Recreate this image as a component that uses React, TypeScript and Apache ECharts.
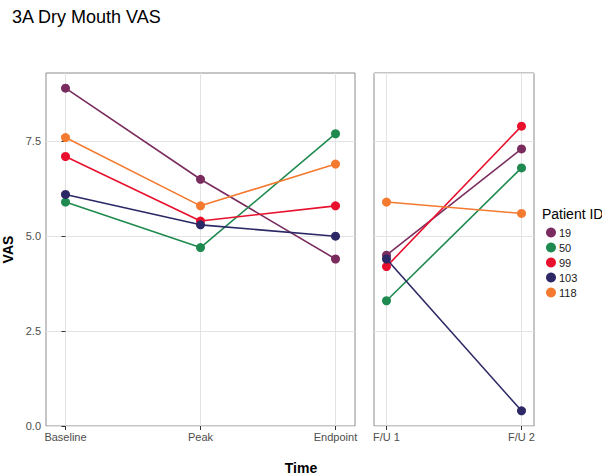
import React, { useEffect, useRef } from "react";
import * as echarts from "echarts";

const title = "3A Dry Mouth VAS";
const leftCategories = ["Baseline", "Peak", "Endpoint"];
const rightCategories = ["F/U 1", "F/U 2"];
const patients = ["19", "50", "99", "103", "118"];
const colors = ["#7b2c5e", "#1f8a4f", "#e8102c", "#2b2865", "#f47a30"];
const leftValues: number[][] = [
  [8.9, 6.5, 4.4],
  [5.9, 4.7, 7.7],
  [7.1, 5.4, 5.8],
  [6.1, 5.3, 5.0],
  [7.6, 5.8, 6.9],
];
const rightValues: number[][] = [
  [4.5, 7.3],
  [3.3, 6.8],
  [4.2, 7.9],
  [4.4, 0.4],
  [5.9, 5.6],
];
const yTicks = [0, 2.5, 5, 7.5];

const FONT = "Liberation Sans, Arial, Helvetica, sans-serif";

export default function App() {
  const ref = useRef<HTMLDivElement>(null);
  useEffect(() => {
    if (!ref.current) return;
    const chart = echarts.init(ref.current, null, { renderer: "svg" });
    const gridLine = { show: true, lineStyle: { color: "#e3e3e3", width: 1 } };
    const series: any[] = [];
    patients.forEach((p, i) => {
      series.push({
        name: p,
        type: "line",
        xAxisIndex: 0,
        yAxisIndex: 0,
        data: leftValues[i].map((v, j) => [j, v]),
        symbol: "circle",
        symbolSize: 9,
        lineStyle: { width: 1.6, color: colors[i] },
        itemStyle: { color: colors[i] },
      });
      series.push({
        name: p,
        type: "line",
        xAxisIndex: 1,
        yAxisIndex: 1,
        data: rightValues[i].map((v, j) => [j, v]),
        symbol: "circle",
        symbolSize: 9,
        lineStyle: { width: 1.6, color: colors[i] },
        itemStyle: { color: colors[i] },
      });
    });
    const xAxisCommon = (cats: string[], pad: number) => ({
      type: "value",
      min: -pad,
      max: cats.length - 1 + pad,
      axisLine: { show: false },
      axisTick: {
        show: true,
        length: 4,
        customValues: cats.map((_, i) => i),
        lineStyle: { color: "#333" },
      },
      axisLabel: {
        customValues: cats.map((_, i) => i),
        formatter: (v: number) => cats[Math.round(v)] ?? "",
        color: "#4d4d4d",
        fontSize: 11,
        fontFamily: FONT,
        margin: 5,
      },
      splitLine: gridLine,
    });
    const yAxisCommon = {
      type: "value",
      min: 0,
      max: 9.3,
      interval: 2.5,
      axisLine: { show: false },
      splitLine: gridLine,
    };
    const gridCommon = {
      top: 73,
      height: 353,
      show: true,
      borderColor: "#8c8c8c",
      borderWidth: 1,
      backgroundColor: "transparent",
      containLabel: false,
      outerBoundsMode: "none",
    };
    chart.setOption({
      animation: false,
      backgroundColor: "#ffffff",
      textStyle: { fontFamily: FONT },
      title: {
        text: title,
        left: 7,
        top: 3,
        textStyle: { fontSize: 18, fontWeight: "normal", color: "#000", fontFamily: FONT },
      },
      grid: [
        { ...gridCommon, left: 46, width: 309 },
        { ...gridCommon, left: 374, width: 160 },
      ],
      xAxis: [
        { ...xAxisCommon(leftCategories, 0.1444), gridIndex: 0 },
        { ...xAxisCommon(rightCategories, 0.0926), gridIndex: 1 },
      ],
      yAxis: [
        {
          ...yAxisCommon,
          gridIndex: 0,
          axisTick: { show: true, length: 4, customValues: yTicks, lineStyle: { color: "#333" } },
          axisLabel: {
            customValues: yTicks,
            formatter: (v: number) => v.toFixed(1),
            color: "#4d4d4d",
            fontSize: 11,
            fontFamily: FONT,
            margin: 5,
          },
          name: "VAS",
          nameLocation: "middle",
          nameRotate: 90,
          nameGap: 29,
          nameTextStyle: { fontSize: 14, fontWeight: "bold", color: "#000", fontFamily: FONT },
        },
        {
          ...yAxisCommon,
          gridIndex: 1,
          axisTick: { show: false },
          axisLabel: { show: false },
        },
      ],
      legend: {
        data: patients,
        orient: "vertical",
        left: 541,
        top: 222,
        itemWidth: 10,
        itemHeight: 10,
        itemGap: 4,
        icon: "circle",
        textStyle: { fontSize: 11, color: "#1a1a1a", fontFamily: FONT, padding: [0, 0, 0, -2] },
      },
      graphic: [
        {
          type: "text",
          left: 542,
          top: 207,
          style: { text: "Patient ID", fill: "#000", font: `14px ${FONT}` },
        },
        {
          type: "text",
          x: 301,
          y: 468,
          style: {
            text: "Time",
            fill: "#000",
            font: `bold 14px ${FONT}`,
            textAlign: "center",
            textVerticalAlign: "middle",
          },
        },
      ],
      series,
    });
    return () => chart.dispose();
  }, []);
  return (
    <div
      ref={ref}
      style={{ position: "absolute", left: 0, top: 0, width: 602, height: 476 }}
    />
  );
}
